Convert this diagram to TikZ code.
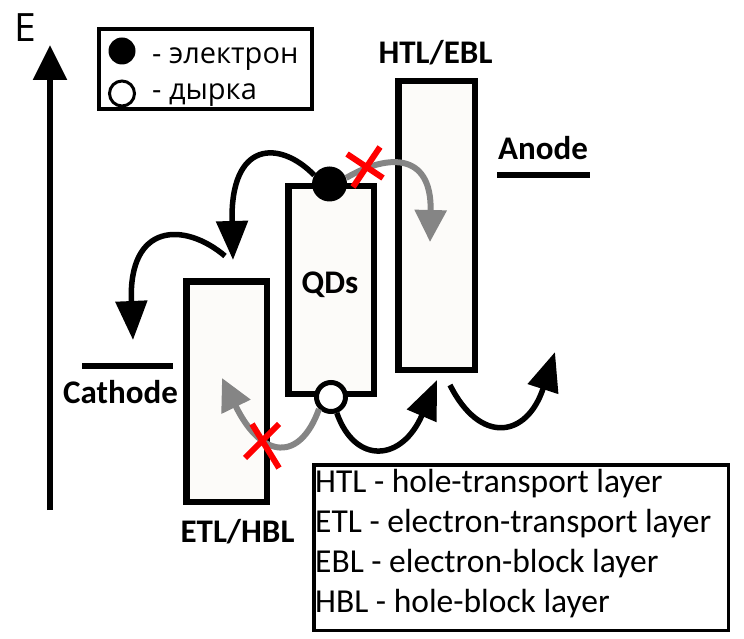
\documentclass[tikz,border=0pt]{standalone}
\usepackage{fontspec}
\setmainfont{Carlito}
\newfontfamily\keyfont{Open Sans}
\usetikzlibrary{arrows.meta}
\definecolor{layerfill}{HTML}{FCFBF9}
\definecolor{blockgrey}{HTML}{858585}
\tikzset{
 layer box/.style={draw=black,line width=6.5pt,fill=layerfill,inner sep=0pt},
 band label/.style={font=\fontsize{33}{40}\selectfont\bfseries,anchor=base,inner sep=0pt},
 electrode/.style={line width=6.5pt},
 carrier flow/.style={line width=5.5pt,draw=black,
   -{Triangle[length=39pt,width=31pt]}},
 blocked flow/.style={line width=6pt,draw=blockgrey,
   -{Triangle[length=32pt,width=31pt,fill=blockgrey]}},
 cross line/.style={draw=red,line width=6pt},
 key text/.style={font=\keyfont\fontsize{29}{34}\selectfont,anchor=base west,inner sep=0pt},
 abbrev text/.style={font=\fontsize{33.5}{40}\selectfont,anchor=base west,inner sep=0pt}
}
\begin{document}
\begin{tikzpicture}[x=1pt,y=-1pt]
\useasboundingbox (0,0) rectangle (744,639);
% energy axis
\coordinate (axis bottom) at (50,510);
\coordinate (axis top) at (50,45);
\draw[line width=6pt,-{Triangle[length=35pt,width=33pt]}] (axis bottom)--(axis top);
\node[font=\keyfont\fontsize{39}{46}\selectfont,anchor=base west,inner sep=0pt] (E) at (14,42) {E};
% layers
\node[layer box,minimum width=80.5pt,minimum height=220.5pt] (etl) at (226.5,391.5) {};
\node[layer box,minimum width=85.5pt,minimum height=207.5pt] (qds) at (331,290) {};
\node[layer box,minimum width=76.5pt,minimum height=288.5pt] (htl) at (436.5,225.5) {};
\node[band label] (qds label) at (330,293) {QDs};
\node[band label] (htl label) at (435.5,64) {HTL/EBL};
\node[band label] (etl label) at (237.5,542) {ETL/HBL};
% electrodes
\node[band label] (anode label) at (543,160) {Anode};
\draw[electrode] (497,175)--(590,175);
\node[band label] (cathode label) at (120.5,403) {Cathode};
\draw[electrode] (82,366)--(173,366);
% carriers
\node[circle,fill=black,minimum size=35pt,inner sep=0pt] (electron) at (329.5,184) {};
\node[circle,draw=black,line width=5pt,fill=white,minimum size=29pt,inner sep=0pt] (hole) at (331,397) {};
% electron paths
\coordinate (etl top) at (233,260);
\coordinate (cathode in) at (225,256);
\coordinate (cathode) at (133,340);
\coordinate (htl in) at (430,242);
\draw[carrier flow] (electron.150) .. controls (280,140) and (230,140) .. (etl top);
\draw[carrier flow] (cathode in) .. controls (185,222) and (128,222) .. (cathode);
\draw[blocked flow] (electron.20) .. controls (385,155) and (432,150) .. (htl in);
% hole paths
\coordinate (etl in) at (222,378);
\coordinate (htl bottom) at (437,380);
\coordinate (anode out) at (450,385);
\coordinate (anode) at (555,352);
\draw[blocked flow] (hole.225) .. controls (300,462) and (262,460) .. (etl in);
\draw[carrier flow] (hole.290) .. controls (355,465) and (402,462) .. (htl bottom);
\draw[carrier flow] (anode out) .. controls (480,445) and (527,438) .. (anode);
% blocked crossings
\coordinate (top cross) at (365,166);
\coordinate (bottom cross) at (263,442);
\draw[cross line] (top cross) ++(-18,-12)--++(36,24) (top cross) ++(15,-19)--++(-27,40);
\draw[cross line] (bottom cross) ++(-18,16)--++(34,-34) (bottom cross) ++(-11,-18)--++(27,44);
% carrier key
\node[draw=black,line width=3.5pt,minimum width=213pt,minimum height=80pt] (carrier key) at (205.5,69) {};
\node[circle,fill=black,minimum size=27pt,inner sep=0pt] (key electron) at (122,51) {};
\node[circle,draw=black,line width=3pt,minimum size=25pt,inner sep=0pt] (key hole) at (122,93.5) {};
\node[key text] (electron text) at (152,64) {- электрон};
\node[key text] (hole text) at (152,100) {- дырка};
% abbreviations
\node[draw=black,line width=3.5pt,minimum width=414.5pt,minimum height=165.5pt] (abbrev) at (521,547.5) {};
\foreach \abbrname/\fullname [count=\i] in {HTL/hole-transport layer,ETL/electron-transport layer,
  EBL/electron-block layer,HBL/hole-block layer}
  \node[abbrev text] (abbrev \i) at (315,{452+40*\i}) {\abbrname{} - \fullname};
\end{tikzpicture}
\end{document}
